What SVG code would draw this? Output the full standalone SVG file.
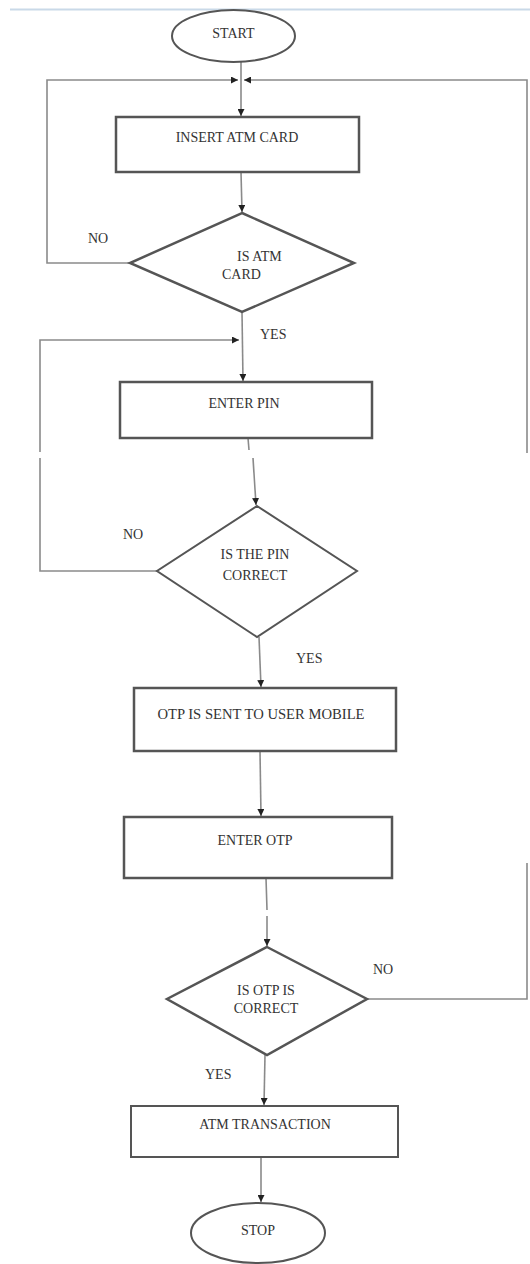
<svg xmlns="http://www.w3.org/2000/svg" width="530" height="1264" viewBox="0 0 530 1264">
<defs>
<marker id="ah" viewBox="0 0 8 8" refX="8" refY="4" markerWidth="7" markerHeight="7" markerUnits="userSpaceOnUse" orient="auto">
<path d="M0,0 L8,4 L0,8 Z" fill="#222"/>
</marker>
</defs>
<style>
.shape{fill:#fff;stroke:#555;stroke-width:2.5}
.thin{stroke-width:2}
.con{fill:none;stroke:#8a8a8a;stroke-width:1.6}
.arr{marker-end:url(#ah)}
text{font-family:"Liberation Serif","Times New Roman",serif;font-size:14px;fill:#333}
.c{text-anchor:middle}
</style>
<rect width="530" height="1264" fill="#fff"/>
<line x1="10" y1="9.5" x2="530" y2="9.5" stroke="#c9d9e8" stroke-width="2"/>
<g id="connectors">
<line class="con arr" x1="241" y1="62" x2="241" y2="116"/>
<polyline class="con arr" points="130,263 47,263 47,80 238,80"/>
<polyline class="con" points="367,999 527,999 527,863"/>
<polyline class="con arr" points="527,453 527,80 244,80"/>
<line class="con arr" x1="241" y1="172" x2="242" y2="212"/>
<line class="con arr" x1="242" y1="312" x2="243" y2="381"/>
<polyline class="con" points="157,571 40,571 40,458"/>
<polyline class="con arr" points="40,452 40,340 239,340"/>
<line class="con" x1="248" y1="438" x2="249" y2="450"/>
<line class="con arr" x1="253" y1="458" x2="256" y2="505"/>
<line class="con arr" x1="259" y1="637" x2="261" y2="687"/>
<line class="con arr" x1="260" y1="751" x2="261" y2="816"/>
<line class="con" x1="266" y1="878" x2="267" y2="910"/>
<line class="con arr" x1="267" y1="916" x2="267" y2="946"/>
<line class="con arr" x1="265" y1="1055" x2="264" y2="1105"/>
<line class="con arr" x1="261" y1="1157" x2="261" y2="1202"/>
</g>
<g id="start">
<ellipse class="shape thin" cx="233.5" cy="36" rx="61.5" ry="26"/>
<text class="c" x="233.5" y="38">START</text>
</g>
<g id="insert-card">
<rect class="shape" x="116" y="117" width="243" height="55"/>
<text class="c" x="237" y="142">INSERT ATM CARD</text>
</g>
<g id="is-atm-card">
<polygon class="shape" points="242,213 354,263 242,312 130,263"/>
<text x="237" y="261">IS ATM</text>
<text x="222" y="279">CARD</text>
</g>
<g id="enter-pin">
<rect class="shape" x="120" y="382" width="252" height="56"/>
<text class="c" x="244" y="408">ENTER PIN</text>
</g>
<g id="is-pin-correct">
<polygon class="shape thin" points="257,506 357,571 257,637 157,571"/>
<text class="c" x="255" y="559">IS THE PIN</text>
<text class="c" x="255" y="580">CORRECT</text>
</g>
<g id="otp-sent">
<rect class="shape" x="134" y="688" width="262" height="63"/>
<text class="c" x="261" y="719" textLength="207" lengthAdjust="spacingAndGlyphs">OTP IS SENT  TO USER MOBILE</text>
</g>
<g id="enter-otp">
<rect class="shape" x="124" y="817" width="268" height="61"/>
<text class="c" x="255" y="845">ENTER OTP</text>
</g>
<g id="is-otp-correct">
<polygon class="shape" points="267,947 367,999 267,1055 167,999"/>
<text class="c" x="266" y="995">IS OTP IS</text>
<text class="c" x="266" y="1013">CORRECT</text>
</g>
<g id="atm-transaction">
<rect class="shape thin" x="131" y="1106" width="267" height="51"/>
<text class="c" x="265" y="1129">ATM TRANSACTION</text>
</g>
<g id="stop">
<ellipse class="shape thin" cx="258" cy="1233" rx="67" ry="30"/>
<text class="c" x="258" y="1235">STOP</text>
</g>
<g id="labels">
<text x="88" y="243">NO</text>
<text x="260" y="339">YES</text>
<text x="123" y="539">NO</text>
<text x="296" y="663">YES</text>
<text x="373" y="974">NO</text>
<text x="205" y="1079">YES</text>
</g>
</svg>
